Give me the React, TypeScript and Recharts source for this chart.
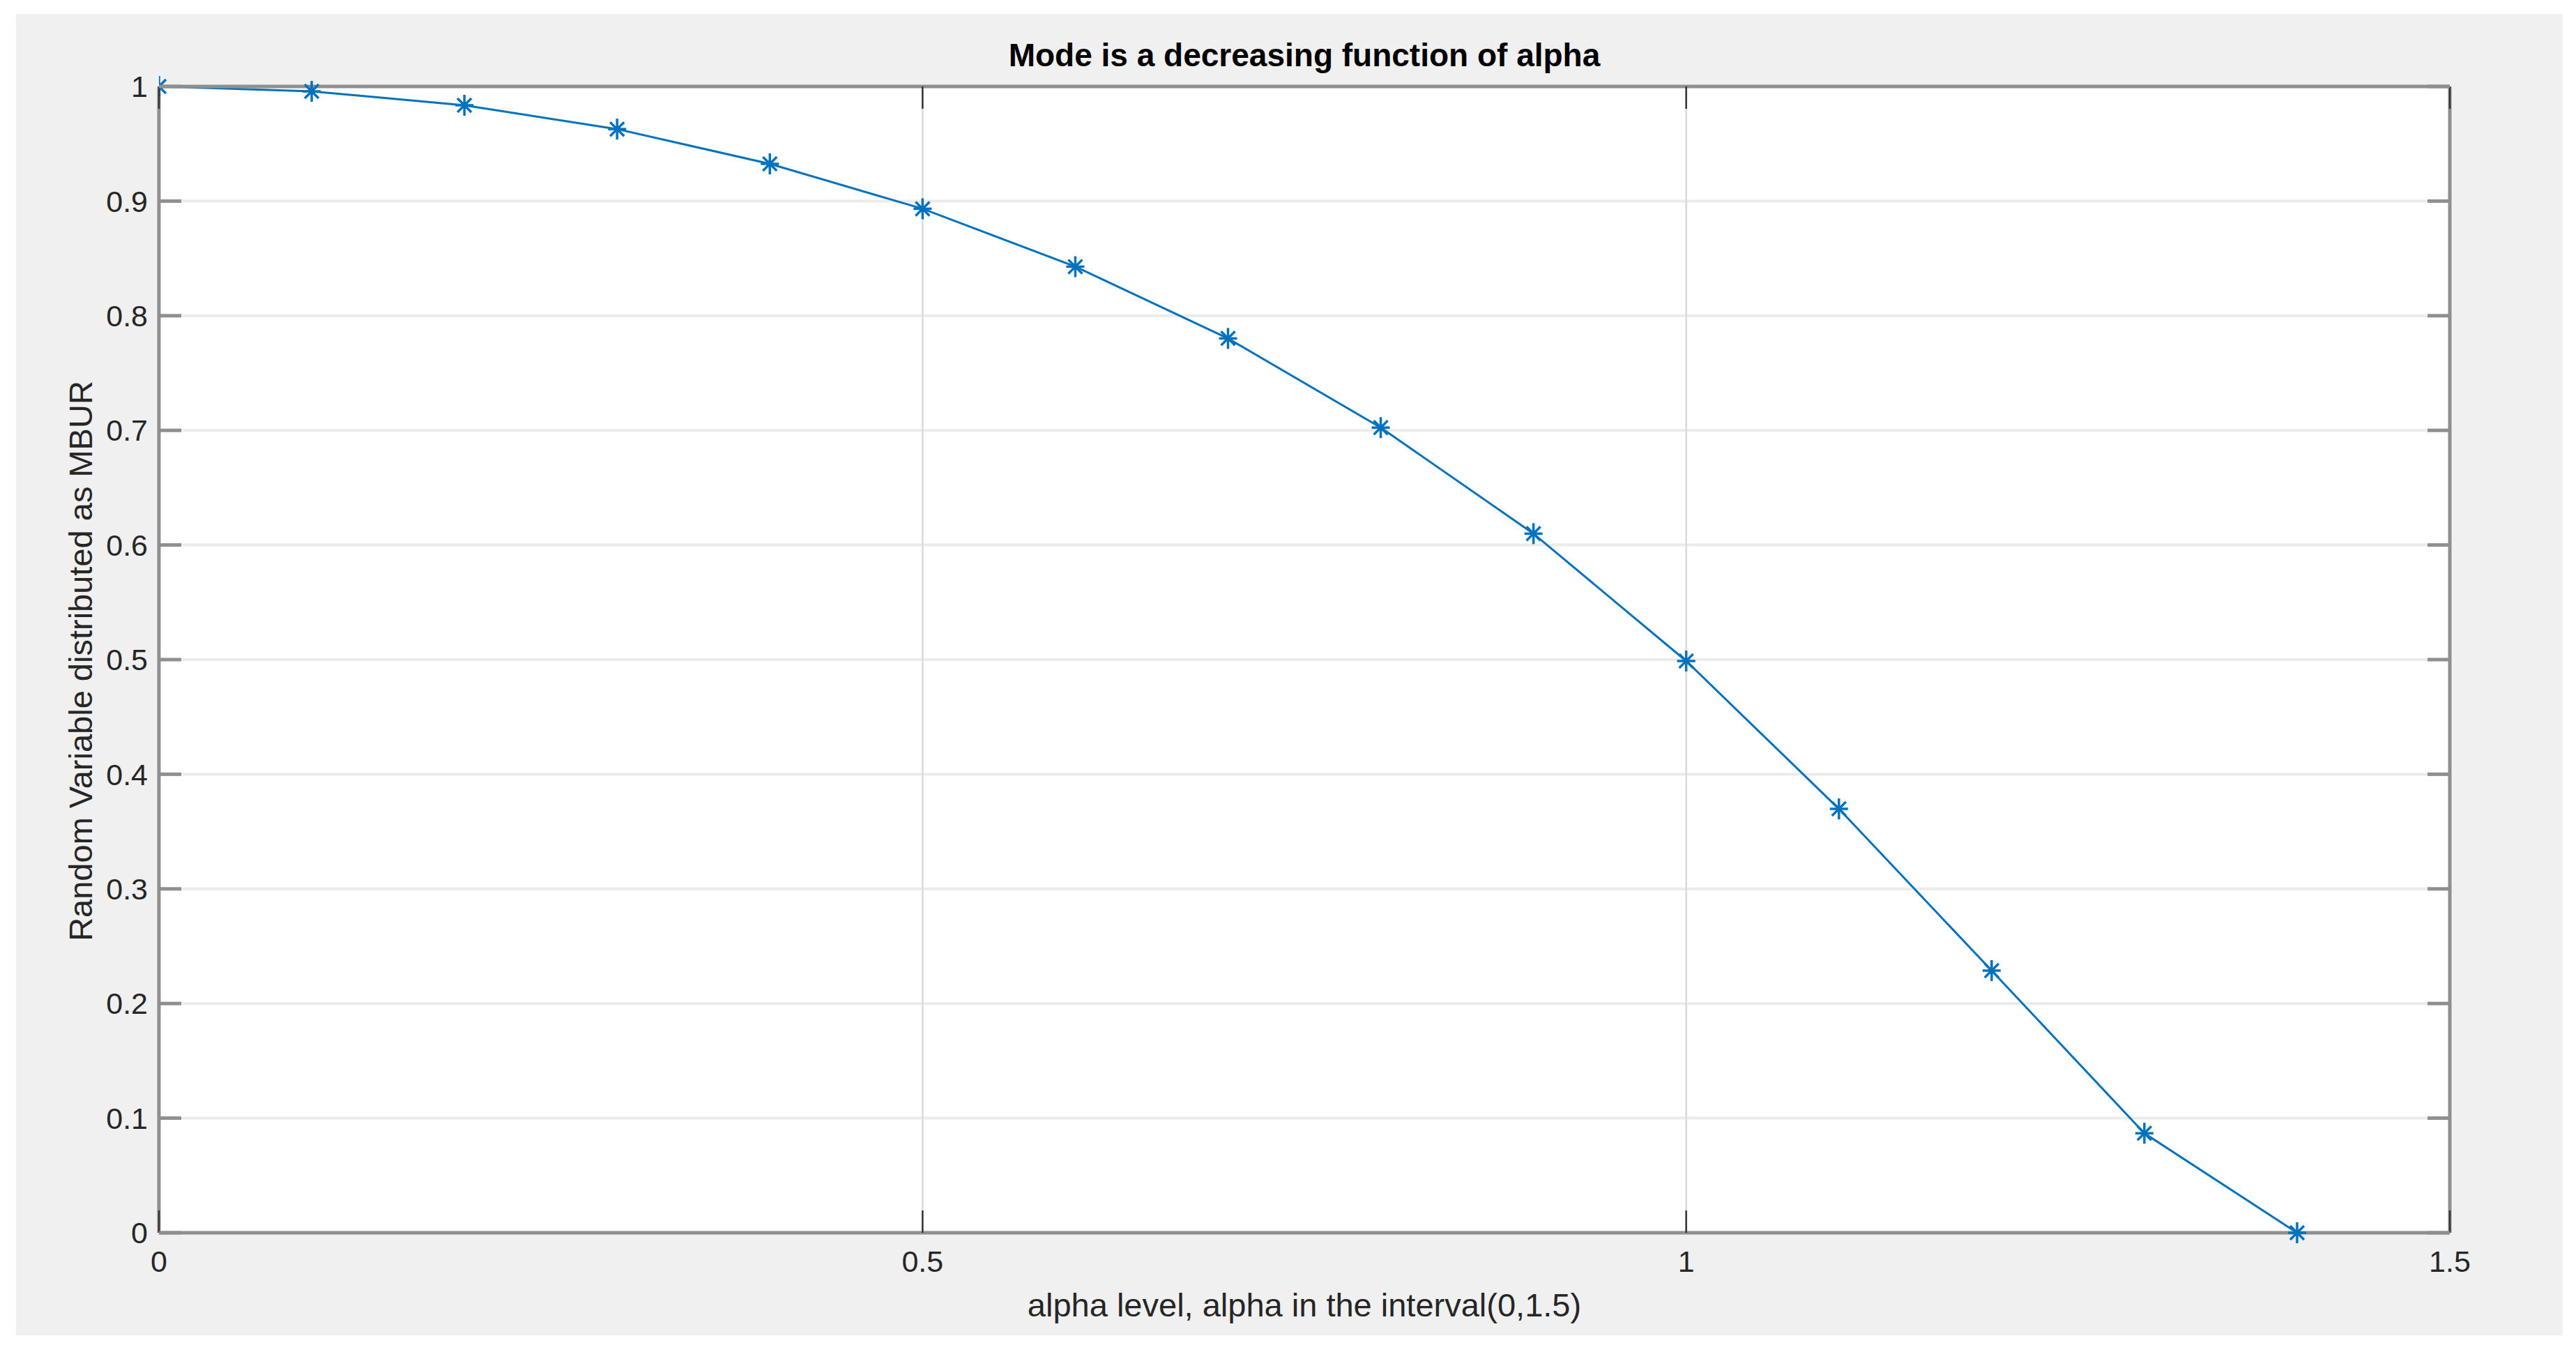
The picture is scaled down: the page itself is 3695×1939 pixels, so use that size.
import React from "react";
import { LineChart, Line, XAxis, YAxis, CartesianGrid } from "recharts";

// ---- data ----
const alphaLevels = [0, 0.1, 0.2, 0.3, 0.4, 0.5, 0.6, 0.7, 0.8, 0.9, 1.0, 1.1, 1.2, 1.3, 1.4];
const modeValues = [1.0, 0.9957, 0.9836, 0.9628, 0.9325, 0.8933, 0.8428, 0.7802, 0.7024, 0.6099, 0.4988, 0.3698, 0.2287, 0.0868, 0.0];
const xTicks = [0, 0.5, 1, 1.5];
const yTicks = [0, 0.1, 0.2, 0.3, 0.4, 0.5, 0.6, 0.7, 0.8, 0.9, 1];
const titleText = "Mode is a decreasing function of alpha";
const xLabelText = "alpha level, alpha in the interval(0,1.5)";
const yLabelText = "Random Variable distributed as MBUR";

const data = alphaLevels.map((a, i) => ({ alpha: a, mode: modeValues[i] }));

// ---- style ----
const W = 3695;
const H = 1939;
const FONT = "'Liberation Sans', Arial, Helvetica, sans-serif";
const LINE_COLOR = "#0072BD";
const AXIS_COLOR = "#8f8f8f";
const TEXT_COLOR = "#262626";
const TICK_LEN = 32;
const X_TICK_MARGIN = 25;
const Y_TICK_MARGIN = 16;
const TICK_FONT = 43;

const BottomTick = (props: any) => {
  const { x, y, payload } = props;
  const axisY = y - X_TICK_MARGIN;
  return (
    <g>
      <line x1={x} y1={axisY} x2={x} y2={axisY - TICK_LEN} stroke="#333333" strokeWidth={2.5} />
      <text x={x} y={y} dy="0.71em" textAnchor="middle" fontSize={TICK_FONT} fontFamily={FONT} fill={TEXT_COLOR}>
        {String(payload.value)}
      </text>
    </g>
  );
};

const TopTick = (props: any) => {
  const { x, y } = props;
  return <line x1={x} y1={y} x2={x} y2={y + TICK_LEN} stroke="#333333" strokeWidth={2.5} />;
};

const LeftTick = (props: any) => {
  const { x, y, payload } = props;
  const axisX = x + Y_TICK_MARGIN;
  return (
    <g>
      <line x1={axisX} y1={y} x2={axisX + TICK_LEN} y2={y} stroke={AXIS_COLOR} strokeWidth={5} />
      <text x={x} y={y} dy="0.355em" textAnchor="end" fontSize={TICK_FONT} fontFamily={FONT} fill={TEXT_COLOR}>
        {String(payload.value)}
      </text>
    </g>
  );
};

const RightTick = (props: any) => {
  const { x, y } = props;
  return <line x1={x} y1={y} x2={x - TICK_LEN} y2={y} stroke={AXIS_COLOR} strokeWidth={5} />;
};

const Asterisk = (props: any) => {
  const { cx, cy } = props;
  if (cx == null || cy == null) return <g />;
  const v = 15;
  const h = 13;
  const d = 10;
  return (
    <g stroke={LINE_COLOR} strokeWidth={3.5}>
      <line x1={cx} y1={cy - v} x2={cx} y2={cy + v} />
      <line x1={cx - h} y1={cy} x2={cx + h} y2={cy} />
      <line x1={cx - d} y1={cy - d} x2={cx + d} y2={cy + d} />
      <line x1={cx - d} y1={cy + d} x2={cx + d} y2={cy - d} />
    </g>
  );
};

export default function App() {
  return (
    <div style={{ position: "absolute", left: 0, top: 0, width: W, height: H, background: "#ffffff", overflow: "hidden" }}>
      <div style={{ position: "absolute", left: 23, top: 20, width: 3653, height: 1895, background: "#f0f0f0" }} />
      <div style={{ position: "absolute", left: 0, top: 0 }}>
        <LineChart width={W} height={H} data={data} margin={{ top: 123, right: 180, bottom: 71, left: 128 }}>
          <CartesianGrid xAxisId="b" yAxisId="l" vertical={false} stroke="#ebebeb" strokeWidth={4} fill="#ffffff" />
          <CartesianGrid xAxisId="b" yAxisId="l" horizontal={false} stroke="#dadada" strokeWidth={2.5} fill="none" />
          <XAxis
            xAxisId="b"
            dataKey="alpha"
            type="number"
            domain={[0, 1.5]}
            ticks={xTicks}
            allowDataOverflow
            height={100}
            tickSize={0}
            tickMargin={X_TICK_MARGIN}
            tickLine={false}
            tick={<BottomTick />}
            axisLine={{ stroke: AXIS_COLOR, strokeWidth: 5 }}
          />
          <XAxis
            xAxisId="t"
            orientation="top"
            dataKey="alpha"
            type="number"
            domain={[0, 1.5]}
            ticks={xTicks}
            allowDataOverflow
            height={1}
            tickSize={0}
            tickMargin={0}
            tickLine={false}
            tick={<TopTick />}
            axisLine={{ stroke: AXIS_COLOR, strokeWidth: 5 }}
          />
          <YAxis
            yAxisId="l"
            type="number"
            domain={[0, 1]}
            ticks={yTicks}
            width={100}
            tickSize={0}
            tickMargin={Y_TICK_MARGIN}
            tickLine={false}
            tick={<LeftTick />}
            axisLine={{ stroke: AXIS_COLOR, strokeWidth: 5 }}
          />
          <YAxis
            yAxisId="r"
            orientation="right"
            type="number"
            domain={[0, 1]}
            ticks={yTicks}
            allowDataOverflow
            width={1}
            tickSize={0}
            tickMargin={0}
            tickLine={false}
            tick={<RightTick />}
            axisLine={{ stroke: AXIS_COLOR, strokeWidth: 5 }}
          />
          <Line
            xAxisId="b"
            yAxisId="l"
            type="linear"
            dataKey="mode"
            stroke={LINE_COLOR}
            strokeWidth={3}
            dot={(p: any) => <Asterisk key={`d-${p.index}`} {...p} />}
            activeDot={false}
            isAnimationActive={false}
          />
        </LineChart>
      </div>
      <div
        style={{
          position: "absolute",
          left: 228,
          width: 3286,
          top: 56,
          textAlign: "center",
          fontFamily: FONT,
          fontWeight: "bold",
          fontSize: 46,
          lineHeight: "46px",
          color: "#000000",
          whiteSpace: "nowrap",
        }}
      >
        {titleText}
      </div>
      <div
        style={{
          position: "absolute",
          left: 228,
          width: 3286,
          top: 1848,
          textAlign: "center",
          fontFamily: FONT,
          fontSize: 47,
          lineHeight: "47px",
          color: TEXT_COLOR,
          whiteSpace: "nowrap",
        }}
      >
        {xLabelText}
      </div>
      <div
        style={{
          position: "absolute",
          left: 115,
          top: 948,
          transform: "translate(-50%, -50%) rotate(-90deg)",
          fontFamily: FONT,
          fontSize: 47,
          lineHeight: "47px",
          color: TEXT_COLOR,
          whiteSpace: "nowrap",
        }}
      >
        {yLabelText}
      </div>
    </div>
  );
}
